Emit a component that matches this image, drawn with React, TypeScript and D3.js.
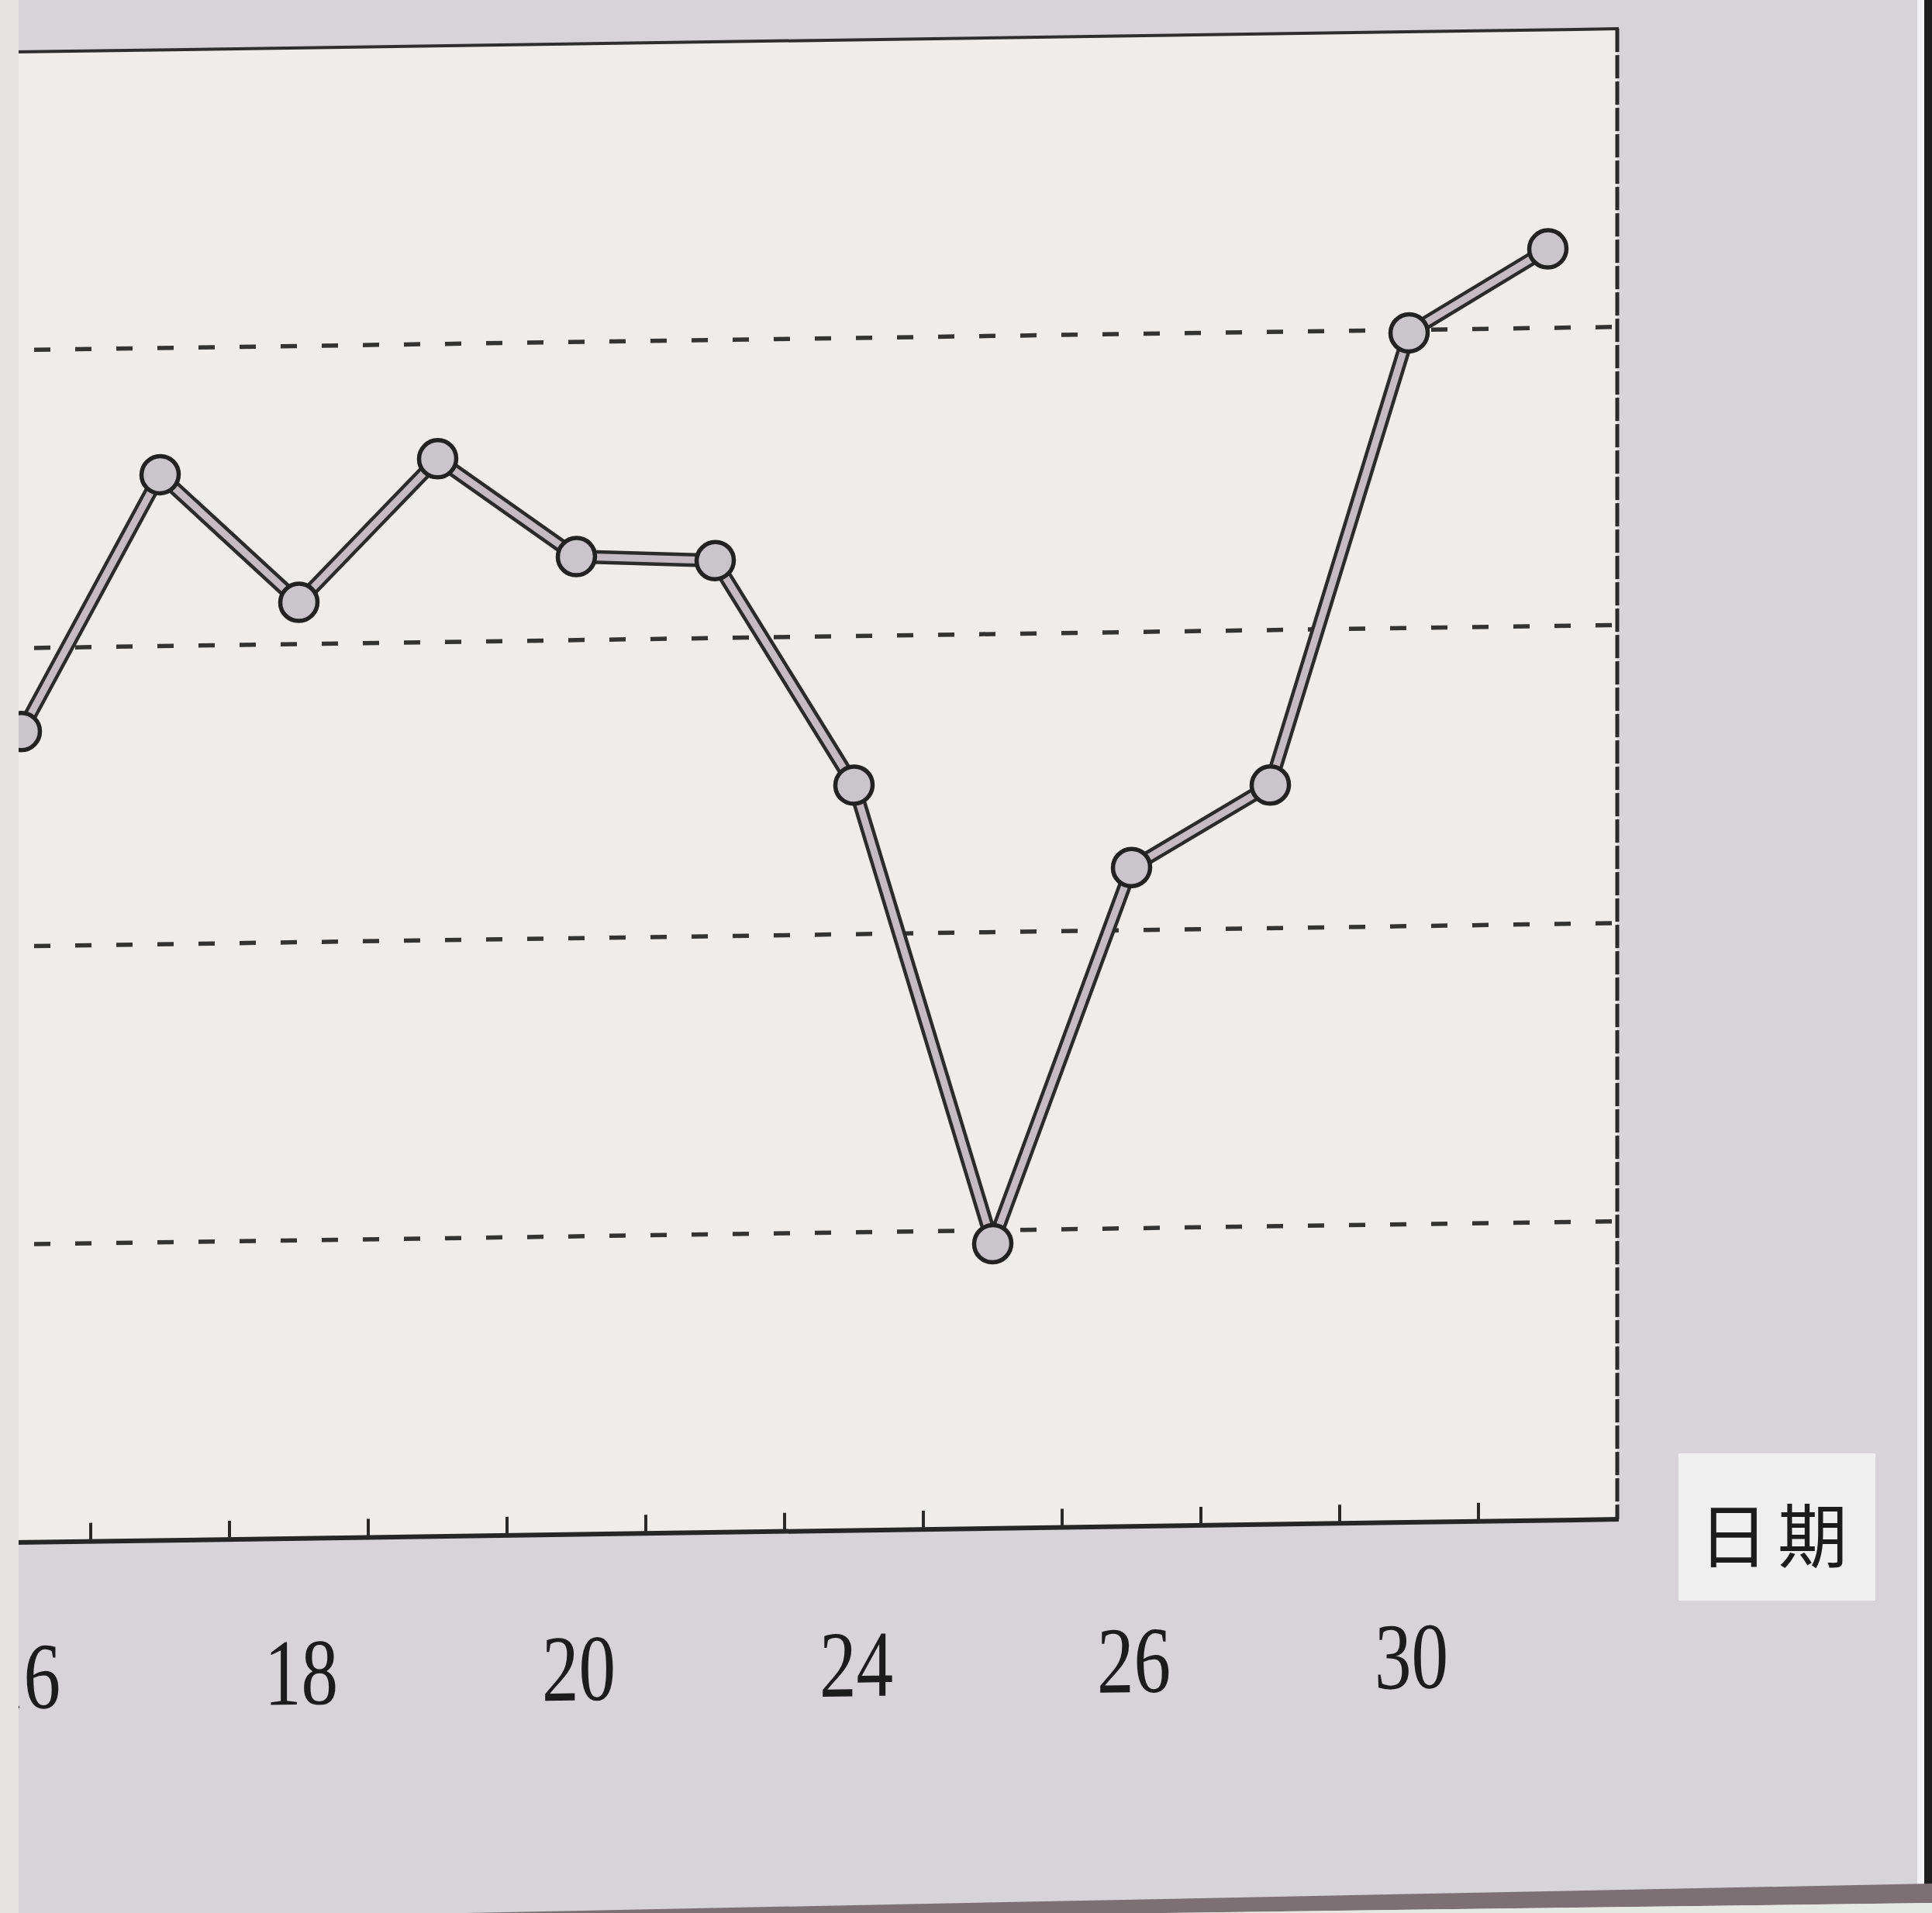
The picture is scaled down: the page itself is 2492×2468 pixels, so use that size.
import React from "react";
import * as d3 from "d3";

const categories = ["c0", "c1", "c2", "c3", "c4", "c5", "c6", "c7", "c8", "c9", "c10", "c11"];
const tickLabels = ["16", "", "18", "", "20", "", "24", "", "26", "", "30", ""];
const values = [2.72, 3.575, 3.14, 3.615, 3.28, 3.26, 2.5, 0.955, 2.21, 2.48, 3.99, 4.265];
const gridValues = [1, 2, 3, 4];
const axisTitle = "日期";

const W = 2492;
const H = 2468;

export default function App() {
  const x = d3.scaleBand<string>().domain(categories).range([-62, 2086]).padding(0);
  const y = d3.scaleLinear().domain([0, 5]).range([1990, 67]);
  const bw = x.bandwidth();
  const cx = (c: string) => (x(c) as number) + bw / 2;
  const pts: [number, number][] = categories.map((c, i) => [cx(c), y(values[i])]);
  const line = d3.line<[number, number]>().x((d) => d[0]).y((d) => d[1]);
  const path = line(pts) || "";
  const [x0, x1] = x.range();
  const skew = "translate(24,1990) skewY(-0.83) translate(-24,-1990)";

  return (
    <svg
      width={W}
      height={H}
      style={{ position: "absolute", left: 0, top: 0, display: "block" }}
      xmlns="http://www.w3.org/2000/svg"
    >
      <rect x={0} y={0} width={W} height={H} fill="#d6d4d7" />
      <g transform={skew}>
        <rect x={x0} y={y(5)} width={x1 - x0} height={y(0) - y(5)} fill="#eeedeb" />
        {gridValues.map((g) => (
          <line
            key={g}
            x1={x0}
            x2={x1}
            y1={y(g)}
            y2={y(g)}
            stroke="#333"
            strokeWidth={5.5}
            strokeDasharray="21 32"
          />
        ))}
        <line x1={x0} x2={x1 + 2} y1={y(5)} y2={y(5)} stroke="#2e2e2e" strokeWidth={4} />
        <line x1={x1} x2={x1} y1={y(5)} y2={y(0)} stroke="#2a2a2a" strokeWidth={5} strokeDasharray="30 4" />
        <line x1={x0} x2={x1 + 2} y1={y(0)} y2={y(0)} stroke="#262626" strokeWidth={6} />
        {categories.map((c) => (
          <line key={c} x1={x(c)} x2={x(c)} y1={y(0)} y2={y(0) - 24} stroke="#2a2a2a" strokeWidth={4} />
        ))}
        <path d={path} fill="none" stroke="#2b2b2b" strokeWidth={18} strokeLinejoin="round" />
        <path d={path} fill="none" stroke="#c4bcc0" strokeWidth={9} strokeLinejoin="round" />
        {pts.map((p, i) => (
          <circle key={i} cx={p[0]} cy={p[1]} r={24} fill="#c9c5ca" stroke="#222" strokeWidth={5.5} />
        ))}
        {categories.map((c, i) =>
          tickLabels[i] ? (
            <text
              key={c}
              transform={`translate(${cx(c) + 3},${y(0) + 214}) scale(0.78,1)`}
              textAnchor="middle"
              fontFamily="'Liberation Serif', 'DejaVu Serif', serif"
              fontSize={122}
              fill="#1c1c1c"
            >
              {tickLabels[i]}
            </text>
          ) : null
        )}
      </g>
      <rect x={2165} y={1875} width={254} height={190} fill="#f0eff0" />
      <text
        x={2293}
        y={2015}
        textAnchor="middle"
        fontFamily="'Noto Sans CJK TC', 'Noto Sans CJK SC', sans-serif"
        fontSize={90}
        letterSpacing={12}
        fill="#1c1c1c"
      >
        {axisTitle}
      </text>
      <rect x={0} y={0} width={24} height={H} fill="#e5e3e0" />
      <rect x={2473} y={0} width={10} height={2440} fill="#f2f1f3" />
      <rect x={2482} y={0} width={10} height={2440} fill="#1e1e1e" />
      <polygon points="600,2468 2492,2430 2492,2455 1500,2468" fill="#7d7075" />
      <polygon points="1500,2468 2492,2455 2492,2468" fill="#e6e8e6" />
    </svg>
  );
}
